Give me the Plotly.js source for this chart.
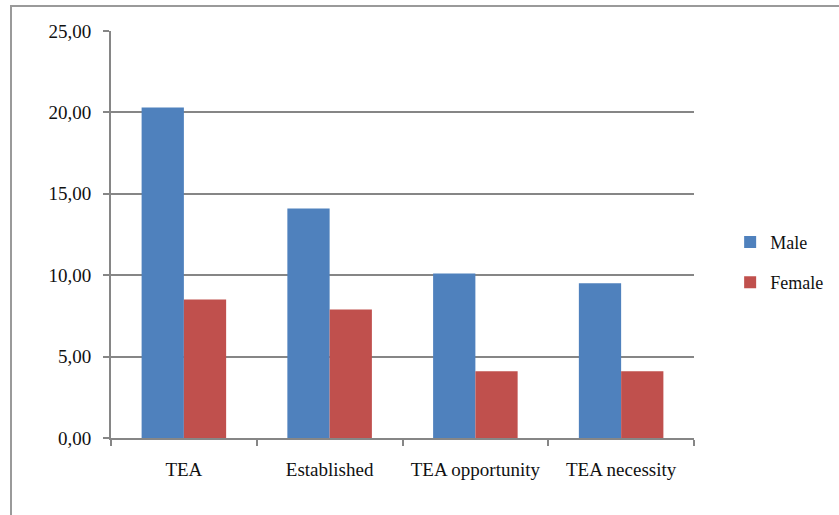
<!DOCTYPE html>
<html>
<head>
<meta charset="utf-8">
<script src="https://cdn.plot.ly/plotly-3.0.1.min.js"></script>
<style>
  html, body { margin: 0; padding: 0; background: #fff; }
  #wrap { position: relative; width: 839px; height: 515px; }
  #chart { width: 839px; height: 515px; }
  /* frame lines along the top and left edges */
  #frame { position: absolute; left: 10px; top: 5px; right: -5px; bottom: -5px;
           border-top: 2px solid #9a9a9a; border-left: 2px solid #9a9a9a; pointer-events: none; }
</style>
</head>
<body>
<div id="wrap">
  <div id="chart"></div>
  <div id="frame"></div>
</div>
<script>
// Entrepreneurial activity by gender (%)
const categories = ["TEA", "Established", "TEA opportunity", "TEA necessity"];
const maleValues = [20.3, 14.1, 10.1, 9.5];
const femaleValues = [8.5, 7.9, 4.1, 4.1];
const yTicks = [0, 5, 10, 15, 20, 25];

const serif = "Liberation Serif";

const traces = [
  { type: "bar", name: "Male", x: categories, y: maleValues,
    marker: { color: "#4F81BD" }, legendgroup: "m", hoverinfo: "y" },
  { type: "bar", name: "Female", x: categories, y: femaleValues,
    marker: { color: "#C0504D" }, legendgroup: "f", hoverinfo: "y" }
];

const layout = {
  width: 839, height: 515,
  margin: { l: 111, r: 145, t: 31, b: 77, autoexpand: false },
  paper_bgcolor: "#ffffff", plot_bgcolor: "#ffffff",
  separators: ",.",
  barmode: "group",
  bargap: 0.42,
  bargroupgap: 0,
  font: { family: serif, size: 18, color: "#111" },
  showlegend: true,
  legend: {
    x: 1.062, xanchor: "left", y: 0.432, yanchor: "middle",
    font: { family: serif, size: 18, color: "#111" },
    tracegroupgap: 14, traceorder: "grouped",
    bgcolor: "rgba(0,0,0,0)", borderwidth: 0
  },
  xaxis: {
    type: "category",
    showline: true, linecolor: "#868686", linewidth: 2,
    ticks: "outside", tickson: "boundaries", ticklen: 6, tickcolor: "#868686", tickwidth: 2,
    showgrid: false, zeroline: false,
    tickfont: { family: serif, size: 19, color: "#111" },
    ticklabelstandoff: 13
  },
  yaxis: {
    range: [0, 25], tickvals: yTicks, tickformat: ".2f",
    showline: true, linecolor: "#868686", linewidth: 2,
    ticks: "outside", ticklen: 6, tickcolor: "#868686", tickwidth: 2,
    showgrid: true, gridcolor: "#868686", gridwidth: 2,
    zeroline: false,
    tickfont: { family: serif, size: 19, color: "#111" },
    ticklabelstandoff: 8
  }
};

Plotly.newPlot("chart", traces, layout, { displayModeBar: false, staticPlot: true });
</script>
</body>
</html>
